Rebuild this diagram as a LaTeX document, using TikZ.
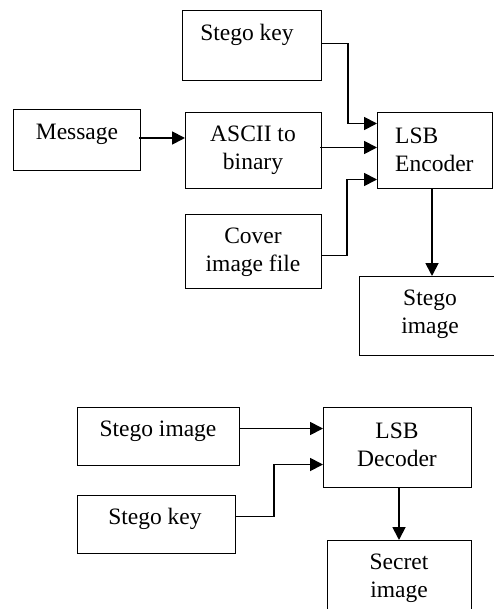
\documentclass[tikz,border=0pt]{standalone}
\usepackage{fontspec}
\setmainfont{Liberation Serif}
\usetikzlibrary{arrows.meta,calc}
\begin{document}
\begin{tikzpicture}[x=1pt,y=-1pt,
  box/.style={draw,line width=1pt,rectangle,inner sep=0pt,anchor=north west},
  txt/.style={font=\fontsize{23.5}{28}\selectfont,align=center,inner sep=0pt},
  arr/.style={line width=1.8pt,-{Triangle[length=13pt,width=13pt]}},
  ln/.style={line width=1.2pt}]
\useasboundingbox (0,0) rectangle (494,609);
% encoder part
\node[box,minimum width=139pt,minimum height=70pt] (sk) at (182,10) {};
\node[txt] (skt) at (247,35) {Stego key};
\node[box,minimum width=127pt,minimum height=61pt] (msg) at (13,109) {};
\node[txt] (msgt) at (77,134) {Message};
\node[box,minimum width=136pt,minimum height=76pt] (asc) at (185,112) {};
\node[txt] (asct) at (253,150) {ASCII to\\binary};
\node[box,minimum width=115pt,minimum height=76pt] (enc) at (377,112) {};
\node[txt,align=left,anchor=west] (enct) at (395,150) {LSB\\Encoder};
\node[box,minimum width=136pt,minimum height=74pt] (cov) at (185,214) {};
\node[txt] (covt) at (253,252) {Cover\\image file};
\node[box,minimum width=143pt,minimum height=79pt] (sim) at (359,276) {};
\node[txt] (simt) at (430,314) {Stego\\image};
\coordinate (k0) at ($(sk.east)+(0,-2)$);
\draw[ln] (k0) -- ++(26,0) coordinate (k1);
\draw[arr] (k1) |- ($(enc.west)+(0,-27)$);
\coordinate (a0) at ($(asc.east)+(-2,-3)$);
\draw[arr] (a0) -- (a0 -| enc.west);
\coordinate (m0) at ($(msg.east)+(-2,-2)$);
\draw[arr] (m0) -- (m0 -| asc.west);
\coordinate (c0) at ($(cov.east)+(0,4)$);
\draw[ln] (c0) -- ++(25,0) coordinate (c1);
\draw[arr] (c1) |- ($(enc.west)+(0,29)$);
\coordinate (e0) at ($(enc.south west)+(55,0)$);
\draw[arr] (e0) -- (e0 |- sim.north);
% decoder part
\node[box,minimum width=162pt,minimum height=58pt] (sim2) at (77,407) {};
\node[txt] (sim2t) at (158,431) {Stego image};
\node[box,minimum width=158pt,minimum height=58pt] (sk2) at (77,495) {};
\node[txt] (sk2t) at (155,519) {Stego key};
\node[box,minimum width=148pt,minimum height=80pt] (dec) at (323,407) {};
\node[txt] (dect) at (397,445) {LSB\\Decoder};
\node[box,minimum width=144pt,minimum height=90pt] (sec) at (327,540) {};
\node[txt] (sect) at (399,578) {Secret\\image};
\coordinate (s0) at ($(sim2.east)+(0,-8)$);
\draw[arr] (s0) -- (s0 -| dec.west);
\draw[ln] ($(sk2.east)+(0,-8)$) -- ++(38,0) coordinate (d1);
\draw[arr] (d1) |- ($(dec.west)+(0,17)$);
\coordinate (x0) at ($(dec.south west)+(76,0)$);
\draw[arr] (x0) -- (x0 |- sec.north);
\end{tikzpicture}
\end{document}
